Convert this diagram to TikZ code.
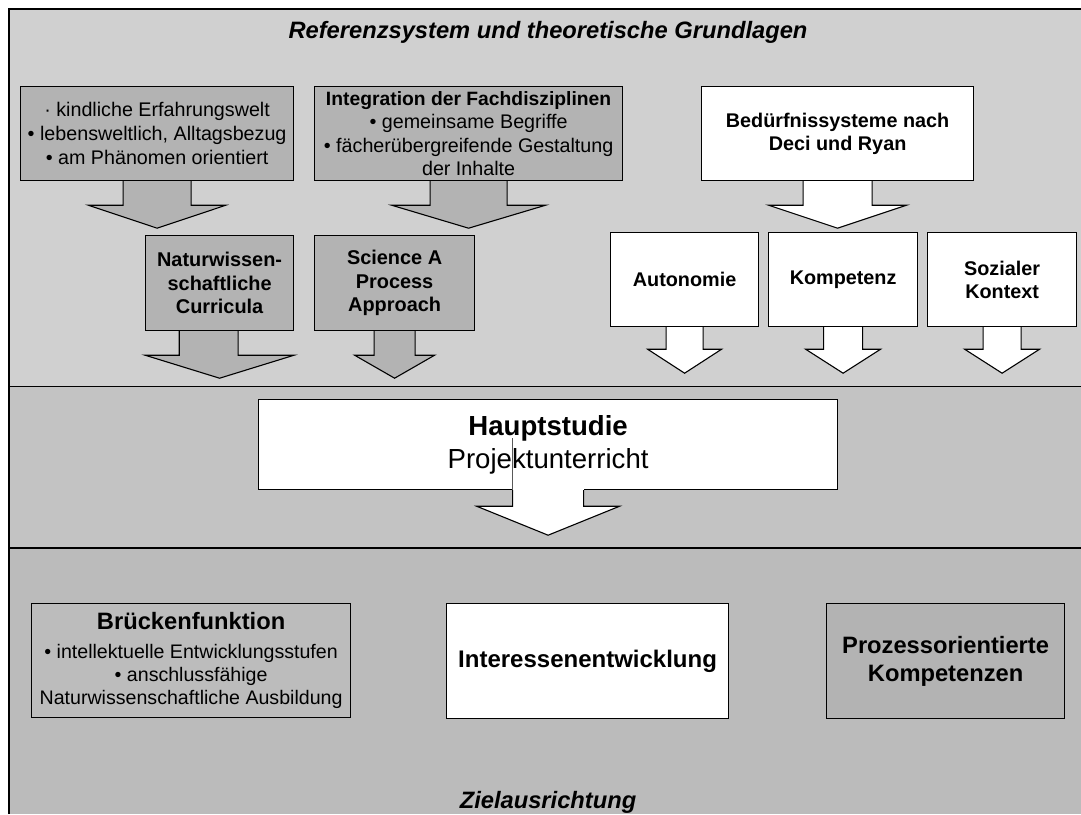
\documentclass[tikz,border=0pt]{standalone}
\usepackage{fontspec}
\setmainfont{Liberation Sans}
\usetikzlibrary{calc}

\definecolor{bandtop}{HTML}{D0D0D0}
\definecolor{bandmid}{HTML}{C3C3C3}
\definecolor{bandbot}{HTML}{BBBBBB}
\definecolor{boxgray}{HTML}{B3B3B3}
\definecolor{boxgraylight}{HTML}{BCBCBC}

\tikzset{
  panelbox/.style={draw=black, line width=1.2pt, inner sep=0pt, anchor=north west, align=center},
  graybox/.style={panelbox, fill=boxgray},
  whitebox/.style={panelbox, fill=white},
  blockarrow/.style={draw=black, line width=1.1pt, line join=miter},
  bandline/.style={draw=black, line width=1.4pt},
  heading/.style={anchor=base, inner sep=0pt, font=\fontsize{23.7}{28}\selectfont\bfseries\itshape},
}

% block arrow hanging below a box:
% #1 fill, #2 box, #3 axis offset, #4 stem half width, #5 head half width,
% #6 depth of head base below the box, #7 depth of tip below the box
\newcommand\hangarrow[7]{%
  \draw[blockarrow, fill=#1]
    ($(#2.south)+(#3-#4,0)$) -- ($(#2.south)+(#3-#4,#6)$) --
    ($(#2.south)+(#3-#5,#6)$) -- ($(#2.south)+(#3,#7)$) --
    ($(#2.south)+(#3+#5,#6)$) -- ($(#2.south)+(#3+#4,#6)$) --
    ($(#2.south)+(#3+#4,0)$);}

\begin{document}
\begin{tikzpicture}[x=1pt, y=-1pt]
\useasboundingbox (0,0) rectangle (1081,814);

% three horizontal bands
\fill[bandtop] (9,9) rectangle (1081,386.5);
\fill[bandmid] (9,386.5) rectangle (1081,548);
\fill[bandbot] (9,548) rectangle (1081,814);
\draw[bandline] (9,814) -- (9,9) -- (1081,9);
\draw[bandline] (9,386.5) -- (1081,386.5);
\draw[bandline] (9,548) -- (1081,548);

% band headings
\node[heading] (reftitle) at (548,38) {Referenzsystem und theoretische Grundlagen};
\node[heading] (zieltitle) at (548,808) {Zielausrichtung};

% upper band, left part
\node[graybox, minimum width=273, minimum height=94,
      font=\fontsize{19.7}{24}\selectfont] (erfahrung) at (20,86)
  {· kindliche Erfahrungswelt\\• lebensweltlich, Alltagsbezug\\• am Phänomen orientiert};
\node[graybox, minimum width=308, minimum height=94,
      font=\fontsize{19.7}{23.3}\selectfont] (integration) at (314,86)
  {{\fontsize{19.3}{23.3}\selectfont\bfseries Integration der Fachdisziplinen}\\• gemeinsame Begriffe\\• fächerübergreifende Gestaltung\\der Inhalte};
\node[graybox, minimum width=148, minimum height=95,
      font=\fontsize{19.9}{23.5}\selectfont\bfseries] (curricula) at (145,235)
  {Naturwissen-\\schaftliche\\Curricula};
\node[graybox, minimum width=160, minimum height=95,
      font=\fontsize{19.9}{23.5}\selectfont\bfseries] (process) at (314,235)
  {Science A\\Process\\Approach};

\hangarrow{boxgray}{erfahrung}{0}{34}{68.75}{24}{47}
\hangarrow{boxgray}{integration}{0}{38.5}{77}{24}{47}
% this one has its stem set a little to the left of the head
\draw[blockarrow, fill=boxgray]
  ($(curricula.south)+(-40.4,0)$) -- ($(curricula.south)+(-40.4,24)$) --
  ($(curricula.south)+(-74.5,24)$) -- ($(curricula.south)+(0,47)$) --
  ($(curricula.south)+(74.5,24)$) -- ($(curricula.south)+(18.5,24)$) --
  ($(curricula.south)+(18.5,0)$);
\hangarrow{boxgray}{process}{0}{20.5}{40}{24}{47}

% upper band, right part
\node[whitebox, minimum width=272, minimum height=94,
      font=\fontsize{19.8}{23.3}\selectfont\bfseries] (beduerfnis) at (701,86)
  {Bedürfnissysteme nach\\Deci und Ryan};
\node[whitebox, minimum width=148, minimum height=94,
      font=\fontsize{19.8}{23.3}\selectfont\bfseries] (autonomie) at (610,232)
  {Autonomie};
\node[whitebox, minimum width=149, minimum height=94,
      font=\fontsize{19.8}{23.3}\selectfont\bfseries] (kompetenz) at (768,232)
  {Kompetenz};
\node[whitebox, minimum width=149, minimum height=94,
      font=\fontsize{19.8}{23.3}\selectfont\bfseries] (sozial) at (927,232)
  {Sozialer\\Kontext};

\hangarrow{white}{beduerfnis}{0}{34.5}{69}{24}{47}
\hangarrow{white}{autonomie}{0}{18.5}{37}{22}{46}
\hangarrow{white}{kompetenz}{0}{19.5}{37.5}{22}{46}
\hangarrow{white}{sozial}{0}{19}{37.5}{22}{46}

% middle band
\node[whitebox, minimum width=579, minimum height=90,
      font=\fontsize{27.6}{33}\selectfont] (haupt) at (258,399)
  {{\bfseries Hauptstudie}\\Projektunterricht};
\fill[white] ($(haupt.south)+(-35.5,-1.5)$) rectangle ($(haupt.south)+(35.5,2)$);
\hangarrow{white}{haupt}{0}{35.5}{71.5}{16}{45}
\draw[gray!70!black, line width=0.5pt] ($(haupt.south)+(-35.5,0)$) -- ++(0,-52);

% lower band
\node[panelbox, fill=boxgraylight, minimum width=319, minimum height=114,
      font=\fontsize{19.6}{23}\selectfont] (bruecke) at (31,603)
  {{\fontsize{23.7}{23}\selectfont\bfseries Brückenfunktion}\\[6pt]• intellektuelle Entwicklungsstufen\\• anschlussfähige\\Naturwissenschaftliche Ausbildung};
\node[whitebox, minimum width=282, minimum height=115,
      font=\fontsize{24}{28}\selectfont\bfseries] (interesse) at (446,603)
  {Interessenentwicklung};
\node[graybox, minimum width=238, minimum height=115,
      font=\fontsize{23.7}{28}\selectfont\bfseries] (prozess) at (826,603)
  {Prozessorientierte\\Kompetenzen};

\end{tikzpicture}
\end{document}
